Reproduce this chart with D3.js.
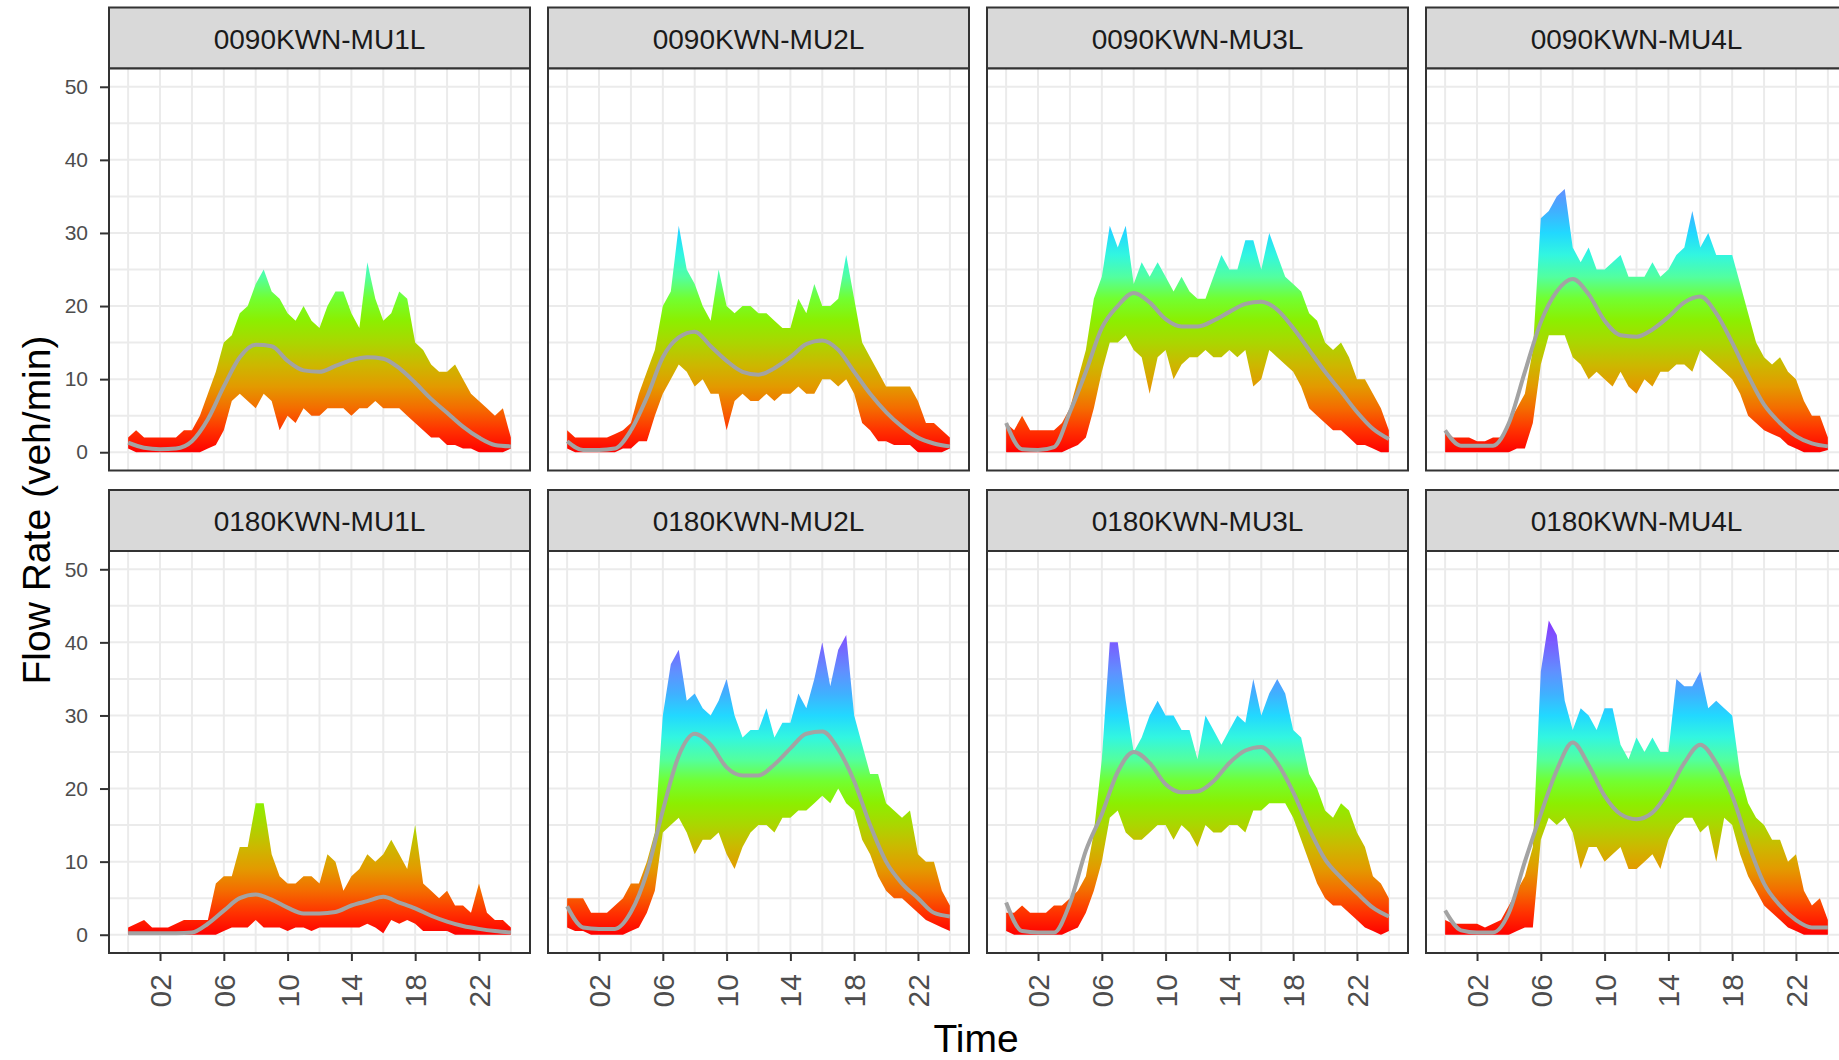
<!DOCTYPE html>
<html>
<head>
<meta charset="utf-8">
<script src="https://cdn.jsdelivr.net/npm/d3@7"></script>
<style>
  body { margin: 0; background: #fff; }
  svg { display: block; }
  text { font-family: "Liberation Sans", Arial, sans-serif; }
</style>
</head>
<body>
<script>
// panels, in facet order
var stations = ["0090KWN-MU1L", "0090KWN-MU2L", "0090KWN-MU3L", "0090KWN-MU4L",
                "0180KWN-MU1L", "0180KWN-MU2L", "0180KWN-MU3L", "0180KWN-MU4L"];

// reading times (hour of day) for the flow envelope, every half hour
var halfHours = [0,0.5,1,1.5,2,2.5,3,3.5,4,4.5,5,5.5,6,6.5,7,7.5,8,8.5,9,9.5,10,10.5,11,11.5,
                 12,12.5,13,13.5,14,14.5,15,15.5,16,16.5,17,17.5,18,18.5,19,19.5,20,20.5,21,21.5,
                 22,22.5,23,23.5,24];
// reading times for the smoothed trend, every hour
var hours = [0,1,2,3,4,5,6,7,8,9,10,11,12,13,14,15,16,17,18,19,20,21,22,23,24];

// upper edge of the per-minute flow (veh/min) read at each half hour
var flowHigh = [
  [2,3,2,2,2,2,2,3,3,5,8,11,15,16,19,20,23,25,22,21,19,18,20,18,17,20,22,22,19,17,26,21,18,19,22,21,15,14,12,11,11,12,10,8,7,6,5,6,2],
  [3,2,2,2,2,2,2.5,3,4,8,11,14,20,22,31,25,23,20,18,25,20,19,20,20,19,19,18,17,17,21,19,23,20,20,21,27,21,15,13,11,9,9,9,9,7,4,4,3,2],
  [4,3,5,3,3,3,3,4,6,10,14,21,24,31,28,31,23,26,24,26,24,22,24,22,21,21,24,27,25,25,29,29,25,30,27,24,23,22,19,18,15,14,15,13,10,10,8,6,3],
  [3,2,2,2,1.5,1.5,2,2,4,6,8,14,32,33,35,36,28,26,28,25,25,26,27,24,24,24,26,24,25,27,28,33,28,30,27,27,27,23,19,15,13,12,13,11,10,7,5,5,2],
  [1,1.5,2,1,1,1,1.5,2,2,2,2,7,8,8,12,12,18,18,11,8,7,7,8,8,7,11,10,6,8,9,11,10,11,13,11,9,15,7,6,5,6,4,4,3,7,3,2,2,1],
  [5,5,5,3,3,3,4,5,7,7,10,14,30,37,39,32,33,31,30,32,35,30,27,28,28,31,27,29,29,33,31,35,40,34,39,41,30,26,22,22,18,17,16,17,11,10,10,6,4],
  [3,3,4,3,3,3,4,4,5,6,8,14,24,40,40,32,25,27,30,32,30,30,28,28,24,30,28,26,28,30,29,35,30,33,35,33,28,27,22,20,17,16,18,17,14,12,8,7,5],
  [2,1.5,1.5,1.5,1.5,1,1.5,2,4,6,8,12,36,43,41,32,28,31,30,28,31,31,26,24,27,25,27,25,25,35,34,34,36,31,32,31,30,22,18,16,15,13,13,10,11,6,4,5,2]
];

// lower edge of the per-minute flow read at each half hour
var flowLow = [
  [0.5,0,0,0,0,0,0,0,0,0,0.5,1,3,7,8,7,6,8,7,3,5,4,6,5,5,6,6,6,5,6,6,7,6,6,6,5,4,3,2,2,1,1,0.5,0.5,0,0,0,0,0.5],
  [0.5,0,0,0,0,0,0,0.5,0.5,1.5,1.5,5,8,10,12,11,9,10,8,8,3,7,8,7,7,8,7,8,8,9,8,8,10,10,9,10,8,4,3,1.5,1.5,1,1,1,0,0,0,0,0.5],
  [0,0,0,0,0,0,0,0,0.5,1,2,6,11,15,15,16,14,13,8,13,14,10,12,13,13,14,13,13,14,13,14,9,10,14,13,12,11,9,6,5,4,3,3,2,1,1,0.5,0,0],
  [0,0,0,0,0,0,0,0,0,0.5,0.5,4,12,16,16,16,13,12,10,11,10,9,11,9,8,10,9,11,11,12,12,11,14,13,12,11,10,8,5,4,3,2.5,2,1,0.5,0,0,0,0.3],
  [0,0,0,0,0,0,0,0,0,0,0,0,0.5,1,1,1,2,1,1,1,0.5,1,1,0.5,1,1,1,1,1,1,1.5,1,0.2,2,1.5,2,1.5,0.5,0.5,0.5,0.5,0,0,0,0,0,0,0,0],
  [1,0.5,0.5,0,0,0,0,0,0.5,1,3,6,14,15,16,14,11,13,13,14,11,9,12,14,15,15,14,16,16,17,17,18,19,18,20,18,17,13,11,8,6,5,5,4,3,2,1.5,1,0.5],
  [0.5,0,0,0,0,0,0,0,0.5,1,3,6,10,16,17,14,13,13,14,15,15,13,15,14,12,15,14,14,15,15,14,17,17,18,18,18,16,13,10,7,5,4,4,3,2,1,0.5,0,0.5],
  [0,0,0,0,0,0,0,0,0,0.5,1,1,13,16,15,16,14,9,12,12,10,11,12,9,9,10,11,9,13,15,16,16,14,15,10,16,15,11,8,6,4,3,2,1,0.5,0,0,0,0]
];

// smoothed trend (grey line) read at each hour
var flowSmooth = [
  [1.3,0.6,0.4,0.5,1.5,4.5,9,13,14.7,14.5,12.5,11.2,11,11.8,12.6,13,12.8,11.5,9.5,7.3,5.4,3.5,2,1,0.8],
  [1.5,0.3,0.3,0.5,3,7.5,13,15.7,16.5,14.5,12.5,11,10.6,11.5,13,14.8,15.3,14,11,8,5.5,3.5,2,1.2,0.8],
  [4,0.4,0.3,0.7,5.5,11,17,20,21.8,20.5,18.2,17.2,17.2,18,19.2,20.3,20.6,19.5,17,14,11,8.3,5.5,3.2,1.8],
  [3,0.9,0.9,0.9,4,11,17.8,22,23.7,21.6,18,16,15.8,16.8,18.5,20.5,21.3,19,15,10.5,6.5,4,2.2,1.2,0.8],
  [0.2,0.2,0.2,0.2,0.3,1.5,3.3,5,5.5,4.8,3.7,2.9,2.9,3.1,4,4.6,5.2,4.4,3.6,2.6,1.8,1.2,0.8,0.5,0.3],
  [3.9,1,0.8,0.8,3.1,8.5,17,24.5,27.5,26,22.9,21.8,21.8,23.3,25.5,27.5,27.8,25.4,21,15,10,7,5,3,2.5],
  [4.4,0.5,0.3,0.3,4.3,11.5,16.5,22.3,25,23.5,20.6,19.5,19.6,21,23.5,25.2,25.7,23.5,19.5,14.5,10.3,7.8,5.7,3.7,2.5],
  [3.3,0.6,0.3,0.3,3,10,16.5,22.5,26.3,23.2,19,16.5,15.8,16.7,19.6,23.5,26,23.5,19,12.5,7,4,2,1,1]
];

// tick labels
var xTicks = [2, 6, 10, 14, 18, 22];
var xTickLabels = ["02", "06", "10", "14", "18", "22"];
var xMinor = [0, 4, 8, 12, 16, 20, 24];
var yTicks = [0, 10, 20, 30, 40, 50];
var yMinor = [5, 15, 25, 35, 45];

// colour scale for flow value
var colourValues = [0, 3, 6, 9, 12, 15, 18, 21, 24, 27, 30, 33, 36, 40, 44];
var colourHex = ["#FF0000","#FF3200","#F46C00","#E39A00","#CCB800","#ABD600","#8CEF00","#72FF30",
                 "#52FFA0","#32F6E0","#22D8FF","#40B0FF","#6090FF","#7A5CFF","#8A2BFF"];

// layout
var svgWidth = 1839, svgHeight = 1060;
var panelW = 421, plotH = 402, stripH = 61;
var colX = [109, 548, 987, 1426];
var rowTop = [7.5, 490];

var svg = d3.select("body").append("svg")
  .attr("width", svgWidth)
  .attr("height", svgHeight);

var x = d3.scaleLinear().domain([-1.2, 25.2]).range([0, panelW]);
var y = d3.scaleLinear().domain([-2.5, 52.5]).range([plotH, 0]);

// vertical gradient following the y scale (same in every panel's local space)
var grad = svg.append("defs").append("linearGradient")
  .attr("id", "flowGrad")
  .attr("gradientUnits", "userSpaceOnUse")
  .attr("x1", 0).attr("x2", 0)
  .attr("y1", y(0)).attr("y2", y(44));
colourValues.forEach(function(v, i) {
  grad.append("stop")
    .attr("offset", v / 44)
    .attr("stop-color", colourHex[i]);
});

var band = d3.area()
  .x(function(d) { return x(d.t); })
  .y0(function(d) { return y(d.lo); })
  .y1(function(d) { return y(d.hi); });

var trend = d3.line()
  .x(function(d) { return x(d.t); })
  .y(function(d) { return y(d.v); })
  .curve(d3.curveMonotoneX);

stations.forEach(function(name, i) {
  var col = i % 4, row = Math.floor(i / 4);
  var left = colX[col], top = rowTop[row];

  // strip
  svg.append("rect")
    .attr("x", left).attr("y", top)
    .attr("width", panelW).attr("height", stripH)
    .attr("fill", "#D9D9D9")
    .attr("stroke", "#333333").attr("stroke-width", 2);
  svg.append("text")
    .attr("x", left + panelW / 2).attr("y", top + stripH / 2 + 1)
    .attr("text-anchor", "middle")
    .attr("dominant-baseline", "central")
    .attr("font-size", 28)
    .attr("fill", "#1A1A1A")
    .text(name);

  var g = svg.append("g")
    .attr("transform", "translate(" + left + "," + (top + stripH) + ")");

  g.append("rect")
    .attr("width", panelW).attr("height", plotH)
    .attr("fill", "#FFFFFF");

  // grid
  g.selectAll(".gy").data(yMinor.concat(yTicks)).enter().append("line")
    .attr("x1", 0).attr("x2", panelW)
    .attr("y1", function(d) { return y(d); }).attr("y2", function(d) { return y(d); })
    .attr("stroke", "#EBEBEB").attr("stroke-width", 2);
  g.selectAll(".gx").data(xMinor.concat(xTicks)).enter().append("line")
    .attr("y1", 0).attr("y2", plotH)
    .attr("x1", function(d) { return x(d); }).attr("x2", function(d) { return x(d); })
    .attr("stroke", "#EBEBEB").attr("stroke-width", 2);

  // flow band
  var rows = halfHours.map(function(t, k) {
    return { t: t, hi: flowHigh[i][k], lo: flowLow[i][k] };
  });
  g.append("path")
    .datum(rows)
    .attr("d", band)
    .attr("fill", "url(#flowGrad)");

  // smoothed trend
  var sm = hours.map(function(t, k) { return { t: t, v: flowSmooth[i][k] }; });
  g.append("path")
    .datum(sm)
    .attr("d", trend)
    .attr("fill", "none")
    .attr("stroke", "#A3A3A3")
    .attr("stroke-width", 4);

  // border
  g.append("rect")
    .attr("width", panelW).attr("height", plotH)
    .attr("fill", "none")
    .attr("stroke", "#333333").attr("stroke-width", 2);

  // y axis on first column
  if (col === 0) {
    var ya = g.append("g").call(d3.axisLeft(y).tickValues(yTicks).tickSize(9).tickPadding(12));
    ya.select(".domain").remove();
    ya.selectAll("line").attr("stroke", "#333333").attr("stroke-width", 2);
    ya.selectAll("text").attr("font-size", 21).attr("fill", "#4D4D4D")
      .attr("font-family", "Liberation Sans, Arial, sans-serif");
  }

  // x axis on bottom row
  if (row === 1) {
    var xa = g.append("g")
      .attr("transform", "translate(0," + plotH + ")")
      .call(d3.axisBottom(x).tickValues(xTicks)
        .tickFormat(function(d, k) { return xTickLabels[k]; })
        .tickSize(8));
    xa.select(".domain").remove();
    xa.selectAll("line").attr("stroke", "#333333").attr("stroke-width", 2);
    xa.selectAll("text")
      .attr("transform", "rotate(-90)")
      .attr("text-anchor", "end")
      .attr("x", -21).attr("y", 0).attr("dy", "0.35em")
      .attr("font-size", 30).attr("fill", "#4D4D4D")
      .attr("font-family", "Liberation Sans, Arial, sans-serif");
  }
});

// axis titles
svg.append("text")
  .attr("transform", "translate(36,510) rotate(-90)")
  .attr("text-anchor", "middle")
  .attr("dominant-baseline", "central")
  .attr("font-size", 39)
  .attr("fill", "#000000")
  .text("Flow Rate (veh/min)");

svg.append("text")
  .attr("x", 976).attr("y", 1052)
  .attr("text-anchor", "middle")
  .attr("font-size", 39)
  .attr("fill", "#000000")
  .text("Time");
</script>
</body>
</html>
